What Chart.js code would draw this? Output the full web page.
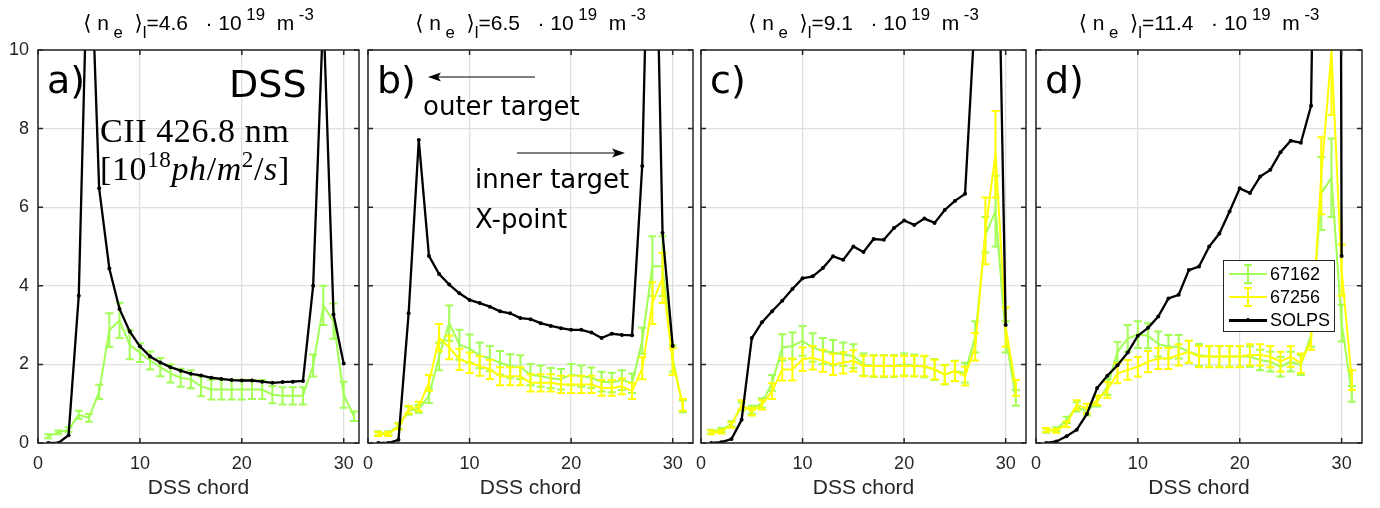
<!DOCTYPE html>
<html><head><meta charset="utf-8">
<script src="https://cdn.jsdelivr.net/npm/chart.js@4.4.1/dist/chart.umd.min.js"></script>
<style>
html,body{margin:0;padding:0;background:#fff;}
#wrap{position:relative;width:1380px;height:508px;overflow:hidden;background:#fff;}
canvas{position:absolute;top:0;}
.ttl{position:absolute;top:11px;font-family:'Liberation Sans',Arial,sans-serif;font-size:21px;line-height:24px;color:#000;text-align:center;white-space:pre;z-index:5;}
.ttl sub{font-size:0.8em;vertical-align:-0.5em;line-height:0;}
.ttl sup{font-size:0.8em;vertical-align:0.6em;line-height:0;}
.ttl .br{font-family:'DejaVu Sans',sans-serif;font-size:1em;}
.ann{position:absolute;font-family:'DejaVu Sans',sans-serif;line-height:1;color:#000;white-space:nowrap;z-index:5;}
.ser{position:absolute;font-family:'Liberation Serif','Times New Roman',serif;font-size:34px;letter-spacing:0.6px;line-height:1;color:#000;white-space:nowrap;z-index:5;}
.ser sup{font-size:0.68em;vertical-align:0.55em;line-height:0;}
#legend{position:absolute;left:1223px;top:260px;width:110px;height:70px;border:1.5px solid #262626;background:#fff;z-index:6;}
.lrow{position:absolute;left:0;width:110px;height:20px;}
.lrow span{position:absolute;left:46px;top:0;font-family:'Liberation Sans',Arial,sans-serif;font-size:18px;line-height:20px;color:#000;}
.bar{position:absolute;}
</style>
</head>
<body>
<div id="wrap">
<canvas id="c0" width="371" height="508" style="left:0px"></canvas>
<canvas id="c1" width="357" height="508" style="left:348px"></canvas>
<canvas id="c2" width="357" height="508" style="left:681px"></canvas>
<canvas id="c3" width="358" height="508" style="left:1016px"></canvas>
</div>
<script>
// ---------------- data ----------------
const chords = [1,2,3,4,5,6,7,8,9,10,11,12,13,14,15,16,17,18,19,20,21,22,23,24,25,26,27,28,29,30,31];
const solpsChords = [1,2,3,4,5,6,7,8,9,10,11,12,13,14,15,16,17,18,19,20,21,22,23,24,25,26,27,28,29,30];
const xTicks = [0,10,20,30];
const yTicks = [0,2,4,6,8,10];
const densities = ['4.6','6.5','9.1','11.4'];
const panelLabels = ['a)','b)','c)','d)'];
const seriesNames = ['67162','67256','SOLPS'];

// panel a
const green_a = [0.17,0.27,0.34,0.72,0.64,1.3,2.87,3.12,2.5,2.3, 2.1,1.93,1.77,1.66,1.62,1.44,1.36,1.36,1.36,1.36, 1.36,1.36,1.23,1.2,1.2,1.2,1.97,3.5,3.1,1.23,0.68];
const errGreen_a = [0.05,0.05,0.06,0.1,0.1,0.18,0.43,0.45,0.37,0.24, 0.23,0.23,0.23,0.23,0.23,0.25,0.25,0.25,0.25,0.25, 0.24,0.24,0.22,0.22,0.22,0.22,0.28,0.5,0.45,0.33,0.12];
const solps_a = [0,0,0.2,3.75,14,6.48,4.44,3.41,2.84,2.46, 2.2,2.05,1.93,1.84,1.76,1.72,1.66,1.63,1.6,1.59, 1.59,1.56,1.53,1.55,1.56,1.58,4.0,11,3.27,2.02];
// panel b
const green_b = [0.25,0.25,0.44,0.82,0.87,1.2,2.2,3.05,2.5,2.4, 2.23,2.15,2.04,1.96,1.93,1.74,1.7,1.65,1.62,1.74, 1.7,1.66,1.56,1.54,1.6,1.52,2.6,4.5,4.5,2.15,0.93];
const errGreen_b = [0.05,0.05,0.07,0.1,0.1,0.18,0.35,0.45,0.38,0.36, 0.33,0.32,0.3,0.3,0.3,0.27,0.27,0.26,0.26,0.27, 0.27,0.26,0.25,0.25,0.25,0.25,0.33,0.76,0.76,0.34,0.15];
const yellow_b = [0.23,0.23,0.42,0.85,0.93,1.53,2.68,2.43,2.13,2.04, 1.96,1.87,1.7,1.7,1.7,1.53,1.53,1.53,1.49,1.49, 1.49,1.49,1.4,1.4,1.44,1.32,1.9,3.56,4.2,2.07,0.97];
const errYellow_b = [0.05,0.05,0.07,0.1,0.12,0.2,0.35,0.3,0.27,0.26, 0.25,0.24,0.23,0.23,0.23,0.22,0.22,0.22,0.22,0.22, 0.22,0.22,0.2,0.2,0.2,0.2,0.28,0.53,0.64,0.34,0.15];
const solps_b = [0,0,0.08,3.3,7.71,4.76,4.3,4.03,3.81,3.64, 3.56,3.47,3.35,3.3,3.18,3.15,3.05,2.98,2.92,2.88, 2.88,2.81,2.67,2.78,2.75,2.74,7.05,18,5.35,2.47];
// panel c
const green_c = [0.29,0.33,0.49,0.93,0.85,1.02,1.53,2.43,2.47,2.6, 2.43,2.34,2.3,2.26,2.21,2.0,1.96,1.96,1.96,2.0, 1.97,1.94,1.87,1.74,1.83,1.79,2.7,5.3,5.9,2.7,1.15];
const errGreen_c = [0.05,0.05,0.07,0.1,0.1,0.12,0.2,0.34,0.34,0.38, 0.36,0.33,0.32,0.3,0.3,0.28,0.28,0.28,0.28,0.28, 0.28,0.27,0.27,0.25,0.26,0.25,0.4,0.45,0.9,0.4,0.2];
const yellow_c = [0.27,0.29,0.46,0.97,0.8,0.97,1.32,1.87,1.87,2.13, 2.17,2.09,2.0,2.04,2.09,1.96,1.96,1.96,1.96,1.96, 1.96,1.96,1.87,1.74,1.83,1.7,2.45,5.4,7.35,2.95,1.4];
const errYellow_c = [0.05,0.05,0.07,0.12,0.1,0.12,0.2,0.28,0.28,0.3, 0.3,0.28,0.27,0.27,0.27,0.26,0.26,0.26,0.26,0.26, 0.26,0.26,0.25,0.24,0.25,0.24,0.35,0.85,1.1,0.5,0.2];
const solps_c = [0,0.02,0.1,0.59,2.67,3.07,3.35,3.62,3.92,4.19, 4.24,4.45,4.75,4.66,5.0,4.86,5.19,5.17,5.47,5.66, 5.55,5.71,5.6,5.93,6.16,6.34,11,20,17,3.0];
// panel d
const green_d = [0.31,0.35,0.59,0.92,0.8,1.05,1.43,2.32,2.66,2.76, 2.73,2.52,2.45,2.45,2.32,2.24,2.2,2.2,2.2,2.2, 2.2,2.11,2.07,1.94,2.07,1.98,2.75,6.35,6.75,3.05,1.25];
const errGreen_d = [0.05,0.05,0.08,0.12,0.1,0.12,0.2,0.25,0.34,0.34, 0.32,0.32,0.3,0.3,0.28,0.28,0.26,0.26,0.26,0.26, 0.26,0.26,0.25,0.25,0.25,0.25,0.3,0.93,1.0,0.47,0.2];
const yellow_d = [0.33,0.31,0.48,0.97,0.88,1.09,1.35,1.77,1.86,1.94, 2.07,2.15,2.15,2.24,2.32,2.2,2.2,2.2,2.2,2.2, 2.24,2.24,2.2,2.07,2.2,2.03,2.62,6.8,9.95,4.4,1.6];
const errYellow_d = [0.05,0.05,0.07,0.12,0.12,0.12,0.2,0.25,0.25,0.25, 0.27,0.27,0.27,0.27,0.28,0.27,0.27,0.27,0.27,0.27, 0.27,0.27,0.27,0.25,0.26,0.25,0.25,0.98,1.6,0.65,0.25];
const solps_d = [0,0.04,0.17,0.34,0.74,1.4,1.71,1.98,2.3,2.73, 2.93,3.22,3.68,3.77,4.4,4.49,5.0,5.33,5.89,6.48, 6.36,6.78,6.95,7.4,7.69,7.64,8.58,26,100,4.76];

// ---------------- styles / layout ----------------
const GREEN = '#a2ff55', YELLOW = '#ffff00', BLACK = '#000000';
const GRID = '#dfdfdf', AXIS = '#262626';
const FONT = "'Liberation Sans', Arial, Helvetica, sans-serif";
Chart.defaults.font.family = FONT;

const layout = [
  {canvas:'c0', left:38,  right:359,  xMax:31.5, L:38, yLabels:true},
  {canvas:'c1', left:368, right:693,  xMax:32,   L:20, yLabels:false},
  {canvas:'c2', left:701, right:1026, xMax:32,   L:20, yLabels:false},
  {canvas:'c3', left:1036,right:1362, xMax:32,   L:20, yLabels:false}
];
const R = 12;

const panelSeries = [
  {green:green_a, eg:errGreen_a, yellow:null, ey:null, solps:solps_a},
  {green:green_b, eg:errGreen_b, yellow:yellow_b, ey:errYellow_b, solps:solps_b},
  {green:green_c, eg:errGreen_c, yellow:yellow_c, ey:errYellow_c, solps:solps_c},
  {green:green_d, eg:errGreen_d, yellow:yellow_d, ey:errYellow_d, solps:solps_d}
];

const errorBarPlugin = {
  id:'errbars',
  afterDatasetDraw(chart, args){
    const ds = chart.data.datasets[args.index];
    if(!ds.errors) return;
    const {ctx, chartArea:ca} = chart;
    const xs = chart.scales.x, ys = chart.scales.y;
    const cap = 4;
    ctx.save();
    ctx.beginPath(); ctx.rect(ca.left, ca.top-1, ca.right-ca.left, ca.bottom-ca.top+2); ctx.clip();
    ctx.strokeStyle = ds.borderColor; ctx.lineWidth = 2; ctx.lineCap = 'butt';
    ctx.beginPath();
    ds.data.forEach((p,i)=>{
      const e = ds.errors[i];
      const x = xs.getPixelForValue(p.x);
      const y1 = ys.getPixelForValue(p.y+e), y2 = ys.getPixelForValue(p.y-e);
      ctx.moveTo(x,y1); ctx.lineTo(x,y2);
      ctx.moveTo(x-cap,y1); ctx.lineTo(x+cap,y1);
      ctx.moveTo(x-cap,y2); ctx.lineTo(x+cap,y2);
    });
    ctx.stroke();
    ctx.restore();
  }
};

const boxPlugin = {
  id:'box',
  afterDatasetsDraw(chart){
    const {ctx, chartArea:ca, scales} = chart;
    ctx.save();
    ctx.strokeStyle = AXIS; ctx.lineWidth = 1.5;
    ctx.strokeRect(ca.left, ca.top, ca.right-ca.left, ca.bottom-ca.top);
    ctx.beginPath();
    const t = 5;
    yTicks.forEach(v=>{ const y = scales.y.getPixelForValue(v);
      ctx.moveTo(ca.left,y); ctx.lineTo(ca.left+t,y); ctx.moveTo(ca.right,y); ctx.lineTo(ca.right-t,y); });
    xTicks.forEach(v=>{ const x = scales.x.getPixelForValue(v);
      ctx.moveTo(x,ca.bottom); ctx.lineTo(x,ca.bottom-t); ctx.moveTo(x,ca.top); ctx.lineTo(x,ca.top+t); });
    ctx.stroke();
    ctx.restore();
  }
};

const toXY = (xs, ys) => xs.map((c,i)=>({x:c, y:ys[i]}));

layout.forEach((p, k)=>{
  const s = panelSeries[k];
  const datasets = [];
  datasets.push({label:seriesNames[0], data:toXY(chords, s.green), errors:s.eg, borderColor:GREEN, backgroundColor:GREEN, borderWidth:2, pointRadius:0, tension:0, order:3});
  if(s.yellow) datasets.push({label:seriesNames[1], data:toXY(chords, s.yellow), errors:s.ey, borderColor:YELLOW, backgroundColor:YELLOW, borderWidth:2, pointRadius:0, tension:0, order:2});
  datasets.push({label:seriesNames[2], data:toXY(solpsChords, s.solps), borderColor:BLACK, backgroundColor:BLACK, borderWidth:2.3, pointRadius:2, pointBorderWidth:0, pointBackgroundColor:BLACK, tension:0, order:1});

  new Chart(document.getElementById(p.canvas), {
    type:'line',
    data:{datasets},
    options:{
      responsive:false, animation:false, devicePixelRatio:1, events:[],
      layout:{padding:{top:50, right:R, bottom:0, left:0}},
      plugins:{legend:{display:false}, tooltip:{enabled:false}},
      scales:{
        x:{type:'linear', min:0, max:p.xMax,
          afterBuildTicks:sc=>{ sc.ticks = xTicks.map(v=>({value:v})); },
          afterFit:sc=>{ sc.height = 65; },
          grid:{color:GRID, lineWidth:1.3, drawTicks:true, tickLength:7, tickColor:'rgba(0,0,0,0)'},
          border:{display:false},
          ticks:{color:AXIS, font:{size:18}, padding:3, maxRotation:0, autoSkip:false},
          title:{display:true, text:'DSS chord', color:AXIS, font:{size:21}, padding:{top:0, bottom:7}}
        },
        y:{type:'linear', min:0, max:10,
          afterBuildTicks:sc=>{ sc.ticks = yTicks.map(v=>({value:v})); },
          afterFit:sc=>{ sc.width = p.L; },
          grid:{color:GRID, lineWidth:1.3, drawTicks:false},
          border:{display:false},
          ticks:{display:p.yLabels, color:AXIS, font:{size:18}, padding:9}
        }
      }
    },
    plugins:[errorBarPlugin, boxPlugin]
  });

  // title
  const t = document.createElement('div');
  t.className = 'ttl';
  t.style.left = p.left+'px'; t.style.width = (p.right-p.left)+'px';
  t.innerHTML = '<span class="br">\u27E8</span> n<sub> e</sub>  <span class="br">\u27E9</span><sub>l</sub>=' + densities[k] + '   \u00B7 10<sup> 19</sup>  m<sup> -3</sup>';
  document.getElementById('wrap').appendChild(t);

  // panel label
  const a = document.createElement('div');
  a.className = 'ann'; a.style.fontSize = '38px';
  a.style.left = (p.left+9)+'px'; a.style.top = '61px';
  a.textContent = panelLabels[k];
  document.getElementById('wrap').appendChild(a);
});
</script>
<div class="ann" style="left:229px;top:65px;font-size:38px;">DSS</div>
<div class="ser" style="left:100px;top:114px;">CII 426.8 nm</div>
<div class="ser" style="left:100px;top:152px;">[10<sup>18</sup><i>ph</i>/<i>m</i><sup>2</sup>/<i>s</i>]</div>
<div class="ann" style="left:423px;top:93px;font-size:26px;">outer target</div>
<div class="ann" style="left:475px;top:166px;font-size:26px;">inner target</div>
<div class="ann" style="left:475px;top:206px;font-size:26px;">X-point</div>
<svg style="position:absolute;left:0;top:0;z-index:5" width="1380" height="508">
  <line x1="535" y1="77" x2="438" y2="77" stroke="#000" stroke-width="1.2"/>
  <polygon points="428,77 441,72.5 438,77 441,81.5" fill="#000"/>
  <line x1="517" y1="153" x2="615" y2="153" stroke="#000" stroke-width="1.2"/>
  <polygon points="625,153 612,148.5 615,153 612,157.5" fill="#000"/>
</svg>
<div id="legend">
  <div class="lrow" style="top:3px">
    <div class="bar" style="left:5px;top:9px;width:38px;height:2px;background:#a2ff55"></div>
    <div class="bar" style="left:23px;top:0px;width:2px;height:20px;background:#a2ff55"></div>
    <div class="bar" style="left:20px;top:0px;width:8px;height:2px;background:#a2ff55"></div>
    <div class="bar" style="left:20px;top:18px;width:8px;height:2px;background:#a2ff55"></div>
    <span>67162</span>
  </div>
  <div class="lrow" style="top:26px">
    <div class="bar" style="left:5px;top:9px;width:38px;height:2px;background:#ffff00"></div>
    <div class="bar" style="left:23px;top:0px;width:2px;height:20px;background:#ffff00"></div>
    <div class="bar" style="left:20px;top:0px;width:8px;height:2px;background:#ffff00"></div>
    <div class="bar" style="left:20px;top:18px;width:8px;height:2px;background:#ffff00"></div>
    <span>67256</span>
  </div>
  <div class="lrow" style="top:49px">
    <div class="bar" style="left:5px;top:9px;width:38px;height:2.5px;background:#000"></div>
    <div class="bar" style="left:22px;top:8px;width:4px;height:4px;border-radius:2px;background:#000"></div>
    <span>SOLPS</span>
  </div>
</div>
<script>
const w = document.getElementById('wrap');
document.querySelectorAll('body > .ann, body > .ser, body > svg, body > #legend').forEach(el=>w.appendChild(el));
</script>
</body></html>
